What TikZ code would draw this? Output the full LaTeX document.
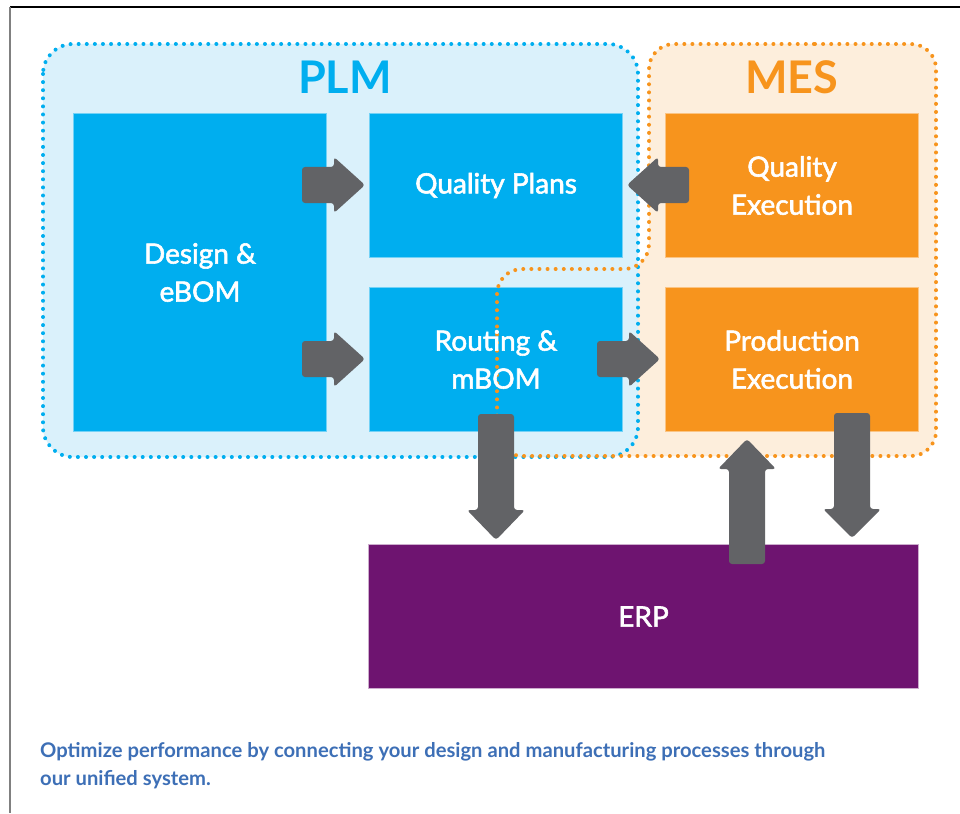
\documentclass[tikz,border=0pt]{standalone}
\usepackage{fontspec}
\setmainfont{Lato}
\newfontfamily\labelfont[FakeBold=2]{Lato}
\definecolor{plmblue}{HTML}{00AEEF}
\definecolor{plmfill}{HTML}{DAF1FB}
\definecolor{mesorange}{HTML}{F7941D}
\definecolor{mesfill}{HTML}{FDEEDC}
\definecolor{erppurple}{HTML}{6E1470}
\definecolor{arrowgray}{HTML}{626366}
\definecolor{captionblue}{HTML}{3D6FB6}
\tikzset{
  dotline/.style={line width=4pt, line cap=round, dash pattern=on 0pt off 8.1pt},
  bluebox/.style={draw=plmblue!55, line width=1pt, fill=plmblue, anchor=north west, inner sep=0pt},
  orangebox/.style={draw=mesorange!55, line width=1pt, fill=mesorange, anchor=north west, inner sep=0pt},
  purplebox/.style={draw=erppurple!35, line width=1pt, fill=erppurple, anchor=north west, inner sep=0pt},
  label/.style={text=white, font=\labelfont\fontsize{28}{38}\selectfont, align=center},
  title/.style={font=\fontsize{45}{50}\selectfont\bfseries},
  blockarrow/.style={fill=arrowgray, rounded corners=3pt},
}
\begin{document}
\begin{tikzpicture}[x=1pt,y=-1pt]
\useasboundingbox (0,0) rectangle (960,813);
\fill[white] (0,0) rectangle (960,813);
% page border
\draw[black, line width=1.5pt] (10,7) -- (960,7);
\draw[gray, line width=1.5pt] (10,7) -- (10,813);
% region fills
\fill[mesfill, rounded corners=25pt] (790,44) -- (936,44) -- (936,456) -- (497,456) -- (497,269) -- (649,269) -- (649,44) -- cycle;
\fill[plmfill, rounded corners=30pt] (43,44) rectangle (638,457);
% boxes
\node[bluebox, minimum width=253pt, minimum height=318pt] (design) at (73,113) {};
\node[bluebox, minimum width=253pt, minimum height=144pt] (qplans) at (369,113) {};
\node[bluebox, minimum width=253pt, minimum height=144pt] (routing) at (369,287) {};
\node[orangebox, minimum width=253pt, minimum height=144pt] (qexec) at (665,113) {};
\node[orangebox, minimum width=253pt, minimum height=144pt] (pexec) at (665,287) {};
\node[purplebox, minimum width=550pt, minimum height=144pt] (erp) at (368,544) {};
% dotted outlines
\draw[plmblue, dotline, rounded corners=30pt] (43,44) rectangle (638,457);
\draw[mesorange, dotline, rounded corners=25pt] (790,44) -- (936,44) -- (936,456) -- (497,456) -- (497,269) -- (649,269) -- (649,44) -- cycle;
% arrows
% design -> quality plans
\fill[blockarrow] (302,167) -- (334,167) -- (334,157) -- (365,185) -- (334,213) -- (334,203) -- (302,203) -- cycle;
% design -> routing
\fill[blockarrow] (302,341) -- (334,341) -- (334,331) -- (365,359) -- (334,387) -- (334,377) -- (302,377) -- cycle;
% routing -> production execution
\fill[blockarrow] (597,341) -- (629,341) -- (629,331) -- (660,359) -- (629,387) -- (629,377) -- (597,377) -- cycle;
% quality execution -> quality plans
\fill[blockarrow] (689,167) -- (658,167) -- (658,157) -- (627,185) -- (658,213) -- (658,203) -- (689,203) -- cycle;
% routing -> ERP
\fill[blockarrow] (478,414) -- (514,414) -- (514,510) -- (525,510) -- (496,540) -- (467,510) -- (478,510) -- cycle;
% ERP -> production execution
\fill[blockarrow] (729,564) -- (765,564) -- (765,469) -- (776,469) -- (747,439) -- (718,469) -- (729,469) -- cycle;
% production execution -> ERP
\fill[blockarrow] (834,413) -- (870,413) -- (870,509) -- (881,509) -- (852,538) -- (823,509) -- (834,509) -- cycle;
% labels
\node[label] at (design.center) {Design \&\\eBOM};
\node[label] at (qplans.center) {Quality Plans};
\node[label] at (routing.center) {Routing \&\\mBOM};
\node[label] at (qexec.center) {Quality\\Execution};
\node[label] at (pexec.center) {Production\\Execution};
\node[label] at (erp.center) {ERP};
\node[title, text=plmblue] (plm) at (345,77) {PLM};
\node[title, text=mesorange] (mes) at (792,77) {MES};
% caption
\node[anchor=base west, inner sep=0pt, text=captionblue, font=\fontsize{20.2}{28}\selectfont\bfseries, align=left] (caption) at (40,785) {Optimize performance by connecting your design and manufacturing processes through\\our unified system.};
\end{tikzpicture}
\end{document}
